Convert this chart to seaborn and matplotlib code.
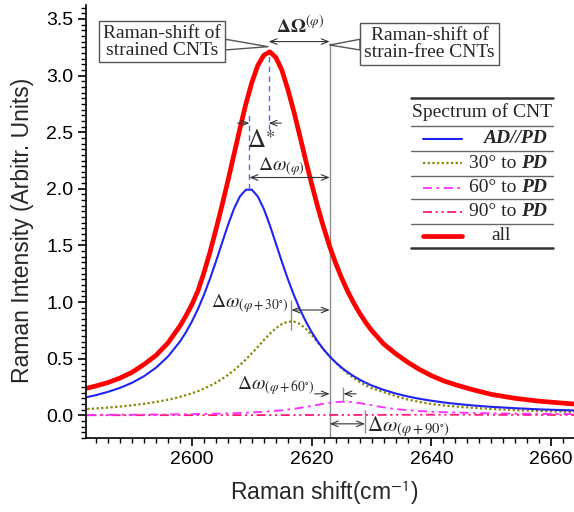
import matplotlib
matplotlib.use("Agg")
import matplotlib.pyplot as plt
import seaborn as sns
import pandas as pd
from matplotlib.lines import Line2D
from matplotlib.ticker import MultipleLocator

# ---------------- data ----------------
shift = [2582.5, 2584, 2586, 2588, 2590, 2592, 2594, 2596, 2598,
         2599, 2600, 2601, 2602, 2603, 2604, 2605, 2606, 2607, 2608,
         2609, 2610, 2611, 2612, 2613, 2614, 2615, 2616, 2617, 2618,
         2619, 2620, 2621, 2622, 2623, 2624, 2625, 2626, 2627, 2628,
         2629, 2630,
         2632, 2634, 2636, 2638, 2640, 2642, 2644,
         2647, 2650, 2654, 2658, 2663.8]

ad_pd = [0.161, 0.179, 0.208, 0.243, 0.288, 0.346, 0.421, 0.520, 0.652,
         0.734, 0.830, 0.939, 1.064, 1.205, 1.358, 1.519, 1.679, 1.822, 1.932,
         1.992, 1.992, 1.932, 1.822, 1.679, 1.519, 1.358, 1.205, 1.064, 0.939,
         0.830, 0.734, 0.652, 0.581, 0.520, 0.467, 0.421, 0.381, 0.346, 0.315,
         0.288, 0.264,
         0.225, 0.193, 0.167, 0.146, 0.129, 0.114, 0.102,
         0.087, 0.075, 0.063, 0.053, 0.043]

deg30 = [0.056, 0.061, 0.069, 0.078, 0.089, 0.102, 0.118, 0.138, 0.163,
         0.178, 0.195, 0.214, 0.236, 0.261, 0.289, 0.320, 0.357, 0.397, 0.443,
         0.493, 0.548, 0.605, 0.664, 0.720, 0.769, 0.806, 0.827, 0.828, 0.808,
         0.765, 0.710, 0.645, 0.580, 0.520, 0.465, 0.415, 0.370, 0.330, 0.295,
         0.265, 0.240,
         0.205, 0.170, 0.140, 0.118, 0.100, 0.088, 0.078,
         0.066, 0.056, 0.046, 0.038, 0.030]

deg60 = [0.0040, 0.0043, 0.0048, 0.0053, 0.0059, 0.0066, 0.0074, 0.0083, 0.0095,
         0.0102, 0.0110, 0.0117, 0.0127, 0.0137, 0.0148, 0.0161, 0.0176, 0.0193, 0.0211,
         0.0233, 0.0258, 0.0286, 0.0319, 0.0357, 0.0400, 0.0451, 0.0510, 0.0578, 0.0655,
         0.0740, 0.0834, 0.0931, 0.1026, 0.1108, 0.1170, 0.1198, 0.1191, 0.1148, 0.1080,
         0.0989, 0.0892,
         0.0705, 0.0550, 0.0460, 0.0380, 0.0320, 0.0280, 0.0250,
         0.0210, 0.0180, 0.0150, 0.0130, 0.0110]

deg90 = [0.0010, 0.0010, 0.0011, 0.0012, 0.0013, 0.0014, 0.0015, 0.0016, 0.0017,
         0.0018, 0.0018, 0.0019, 0.0019, 0.0020, 0.0020, 0.0021, 0.0021, 0.0022, 0.0022,
         0.0023, 0.0023, 0.0024, 0.0024, 0.0025, 0.0025, 0.0026, 0.0026, 0.0027, 0.0027,
         0.0028, 0.0028, 0.0029, 0.0030, 0.0031, 0.0032, 0.0033, 0.0034, 0.0035, 0.0036,
         0.0037, 0.0038,
         0.0042, 0.0046, 0.0050, 0.0053, 0.0055, 0.0054, 0.0052,
         0.0048, 0.0044, 0.0040, 0.0036, 0.0032]

total = [0.24, 0.26, 0.29, 0.33, 0.38, 0.45, 0.53, 0.64, 0.79,
         0.88, 0.98, 1.10, 1.26, 1.44, 1.64, 1.85, 2.07, 2.30, 2.53,
         2.75, 2.94, 3.09, 3.18, 3.21, 3.16, 3.05, 2.88, 2.685, 2.47,
         2.25, 2.04, 1.84, 1.657, 1.49, 1.343, 1.212, 1.095, 0.993, 0.902,
         0.821, 0.750,
         0.631, 0.545, 0.470, 0.405, 0.350, 0.305, 0.270,
         0.225, 0.185, 0.150, 0.125, 0.100]

series_names = ["AD//PD", "30° to PD", "60° to PD", "90° to PD", "all"]
x_ticks = [2600, 2620, 2640, 2660]
y_ticks = [0.0, 0.5, 1.0, 1.5, 2.0, 2.5, 3.0, 3.5]

# annotation anchors (cm^-1)
STRAINED = 2612.8      # peak of the "all" spectrum
FREE = 2623.0          # strain-free position
AD_PEAK = 2609.6
P30 = 2616.6
P60 = 2625.3
P90 = 2628.9

# ---------------- style ----------------
sns.set_style("ticks")
plt.rcParams["font.family"] = ["Liberation Sans", "DejaVu Sans"]
plt.rcParams["mathtext.fontset"] = "stix"
SERIF = ["Liberation Serif", "DejaVu Serif"]

W, H = 574, 512
fig = plt.figure(figsize=(W / 100, H / 100), dpi=100)
ax = fig.add_axes([86 / W, 74 / H, (W - 86) / W, 433 / H])

df = pd.DataFrame({"shift": shift, series_names[0]: ad_pd, series_names[1]: deg30,
                   series_names[2]: deg60, series_names[3]: deg90, series_names[4]: total})

styles = {
    "AD//PD": dict(color="#1f24f5", linewidth=1.5, linestyle="-"),
    "30° to PD": dict(color="#8a8600", linewidth=1.6, linestyle=(0, (1, 1.1))),
    "60° to PD": dict(color="#ff2bff", linewidth=1.3, linestyle=(0, (5, 2.5, 1.5, 2.5))),
    "90° to PD": dict(color="#ff1a78", linewidth=1.3, linestyle=(0, (5, 2, 1.2, 2, 1.2, 2))),
    "all": dict(color="#ff0000", linewidth=3.4, linestyle="-"),
}
order = ["90° to PD", "60° to PD", "30° to PD", "AD//PD", "all"]
for name in order:
    sns.lineplot(data=df, x="shift", y=name, ax=ax, legend=False, **styles[name])

ax.set_xlim(2582.3, 2663.8)
ax.set_ylim(-0.2, 3.623)
sns.despine(ax=ax)
for sp in ("left", "bottom"):
    ax.spines[sp].set_linewidth(1.2)
    ax.spines[sp].set_color("black")

ax.set_xticks(x_ticks)
ax.set_yticks(y_ticks)
ax.set_yticklabels([f"{v:.1f}" for v in y_ticks])
ax.xaxis.set_minor_locator(MultipleLocator(2))
ax.yaxis.set_minor_locator(MultipleLocator(0.05))
ax.tick_params(which="major", direction="out", length=6, width=1.2, labelsize=14,
               color="black", labelcolor="black", pad=3)
ax.tick_params(which="minor", direction="out", length=3.5, width=1.0, color="black")

ax.set_xlabel("Raman shift(cm$^{\\mathsf{-1}}$)", fontsize=16.5)
ax.set_ylabel("Raman Intensity (Arbitr. Units)", fontsize=16.5)
ax.xaxis.set_label_coords(0.488, -0.093)
ax.yaxis.set_label_coords(-0.106, 0.48)

# ---------------- annotations ----------------
GREY = "#8c8c8c"
DARK = "#333333"
ax.vlines(FREE, -0.2, 3.29, color=GREY, lw=1.0, zorder=1)
ax.vlines(STRAINED, 2.52, 3.2, color="#5866dd", lw=1.0, linestyles=(0, (4, 3)), zorder=3)
ax.vlines(AD_PEAK, 2.0, 2.66, color="#5866dd", lw=1.0, linestyles=(0, (4, 3)), zorder=3)


def arrow(x0, x1, y, style="<->"):
    ax.annotate("", xy=(x1, y), xytext=(x0, y),
                arrowprops=dict(arrowstyle=style + ",head_length=0.5,head_width=0.2",
                                lw=0.8, color=DARK, shrinkA=0, shrinkB=0))


box = dict(boxstyle="square,pad=0.2", fc="white", ec="#555555", lw=1.0)
wedge = dict(arrowstyle="wedge,tail_width=0.55,shrink_factor=0.5", fc="white",
             ec="#555555", lw=1.0, shrinkA=0, shrinkB=0)
ax.annotate("Raman-shift of\nstrained CNTs", xy=(STRAINED - 0.1, 3.255), xytext=(2595.0, 3.30),
            ha="center", va="center", fontsize=14, family=SERIF, linespacing=1.0,
            bbox=box, arrowprops=wedge, zorder=6)
ax.annotate("Raman-shift of\nstrain-free CNTs", xy=(FREE, 3.27), xytext=(2639.7, 3.28),
            ha="center", va="center", fontsize=14, family=SERIF, linespacing=1.0,
            bbox=box, arrowprops=wedge, zorder=6)

# Delta Omega
ax.text(2618.0, 3.44, r"$\mathbf{\Delta\Omega}^{(\varphi)}$", ha="center", va="center", fontsize=14)
arrow(STRAINED, FREE, 3.30)

# Delta*
arrow(2607.6, AD_PEAK, 2.58, "->")
arrow(2614.9, STRAINED, 2.58, "->")
ax.text(2611.6, 2.43, r"$\Delta^{\ast}$", ha="center", va="center", fontsize=18)

# Delta omega (phi)
ax.text(2614.9, 2.20, r"$\Delta\omega_{(\varphi)}$", ha="center", va="center", fontsize=14)
arrow(AD_PEAK, FREE, 2.10)

# Delta omega (phi+30)
ax.text(2616.2, 0.985, r"$\Delta\omega_{(\varphi+30^{\circ})}$", ha="right", va="center", fontsize=14)
ax.vlines(P30, 0.75, 1.02, color=GREY, lw=1.0)
arrow(P30, FREE, 0.93)

# Delta omega (phi+60)
ax.text(2620.4, 0.265, r"$\Delta\omega_{(\varphi+60^{\circ})}$", ha="right", va="center", fontsize=14)
arrow(2620.5, FREE, 0.19, "->")
ax.vlines(P60, 0.12, 0.25, color=GREY, lw=1.0)
arrow(2627.4, P60, 0.19, "->")

# Delta omega (phi+90)
ax.vlines(P90, -0.155, 0.05, color=GREY, lw=1.0)
arrow(FREE, P90, -0.075)
ax.text(P90 + 0.4, -0.10, r"$\Delta\omega_{(\varphi+90^{\circ})}$", ha="left", va="center", fontsize=15)

# ---------------- table-style legend ----------------
def fx(px):
    return px / W


def fy(py):
    return 1 - py / H


for py, lw, col in [(97.5, 1.8, "#333333"), (125.5, 1.0, "#666666"), (151, 1.0, "#666666"),
                    (175.5, 1.0, "#666666"), (199, 1.0, "#666666"), (223.5, 1.0, "#666666"),
                    (247.5, 1.8, "#333333")]:
    fig.add_artist(Line2D([fx(411), fx(553)], [fy(py), fy(py)], color=col, lw=lw))

fig.text(fx(482.5), fy(112), "Spectrum of CNT", ha="center", va="center", fontsize=14, family=SERIF)

rows_y = [138.5, 163, 187.5, 211.5, 236]
renderer = fig.canvas.get_renderer()
for name, ry in zip(series_names, rows_y):
    st = styles[name]
    fig.add_artist(Line2D([fx(423), fx(462)], [fy(ry), fy(ry)], color=st["color"],
                          lw=st["linewidth"], linestyle=st["linestyle"]))
    if name == "all":
        fig.text(fx(501), fy(ry), "all", ha="center", va="center", fontsize=14, family=SERIF)
    elif name == "AD//PD":
        fig.text(fx(547), fy(ry), "AD//PD", ha="right", va="center", fontsize=14, family=SERIF,
                 weight="bold", style="italic")
    else:
        t = fig.text(fx(547), fy(ry), "PD", ha="right", va="center", fontsize=14, family=SERIF,
                     weight="bold", style="italic")
        bb = t.get_window_extent(renderer)
        fig.text((bb.x0 - 4.5) / W, fy(ry), name.replace(" PD", ""), ha="right", va="center",
                 fontsize=14, family=SERIF)

fig.savefig("out.png", dpi=100)
